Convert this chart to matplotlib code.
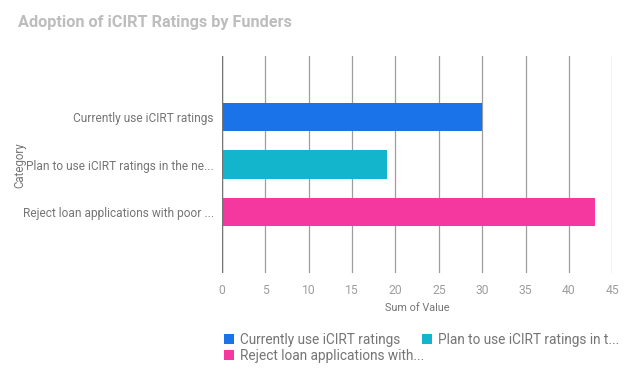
import matplotlib
matplotlib.use("Agg")
import matplotlib.pyplot as plt
from matplotlib.patches import Patch

categories = ["Currently use iCIRT ratings",
              "Plan to use iCIRT ratings in the ne...",
              "Reject loan applications with poor ..."]
legend_labels = ["Currently use iCIRT ratings",
                 "Plan to use iCIRT ratings in t...",
                 "Reject loan applications with..."]
values = [30, 19, 43]
colors = ["#1A73E8", "#12B5CB", "#F538A0"]
xticks = [0, 5, 10, 15, 20, 25, 30, 35, 40, 45]

plt.rcParams['font.family'] = ['Roboto', 'DejaVu Sans']

fig = plt.figure(figsize=(6.28, 3.8), dpi=100)
ax = fig.add_axes([222/628, 1-273/380, (612.3-222)/628, (273-56)/380])

ypos = list(range(len(categories)))
ax.barh(ypos, values, height=0.59, color=colors, zorder=3)
ax.set_ylim(len(categories) - 1 + 1.284, -1.284)
ax.set_xlim(0, 45)
ax.set_xticks(xticks)
ax.set_xticklabels([str(t) for t in xticks], fontsize=8.7, color="#9E9E9E")
ax.set_yticks(ypos)
ax.set_yticklabels(categories, fontsize=8.6, color="#757575")
ax.tick_params(axis='both', length=0)
ax.tick_params(axis='x', pad=8)
ax.tick_params(axis='y', pad=6)
ax.grid(axis='x', color="#9E9E9E", linewidth=0.9, zorder=0)
for s in ax.spines.values():
    s.set_visible(False)
ax.axvline(0, color="#757575", linewidth=1.0, zorder=4)

ax.set_xlabel("Sum of Value", fontsize=7.8, color="#757575", labelpad=4)
fig.text(20/628, 1-165/380, "Category", rotation=90, fontsize=8.3, color="#757575",
         ha='center', va='center')

fig.text(18/628, 1-22/380, "Adoption of iCIRT Ratings by Funders", fontsize=11.7,
         color="#BDBDBD", fontweight='semibold', ha='left', va='center')

handles = [Patch(facecolor=c, edgecolor='none') for c in colors]
leg_kw = dict(loc='upper left', frameon=False, fontsize=9.8, handlelength=0.72,
              handleheight=0.72, handletextpad=0.45, columnspacing=1.6,
              borderaxespad=0, borderpad=0)
leg1 = fig.legend(handles[:2], legend_labels[:2], ncol=2,
                  bbox_to_anchor=(224/628, 1-333/380), **leg_kw)
leg2 = fig.legend(handles[2:], legend_labels[2:], ncol=1,
                  bbox_to_anchor=(224/628, 1-349/380), **leg_kw)
for lg in (leg1, leg2):
    for t in lg.get_texts():
        t.set_color("#757575")

fig.savefig("out.png", dpi=100)
